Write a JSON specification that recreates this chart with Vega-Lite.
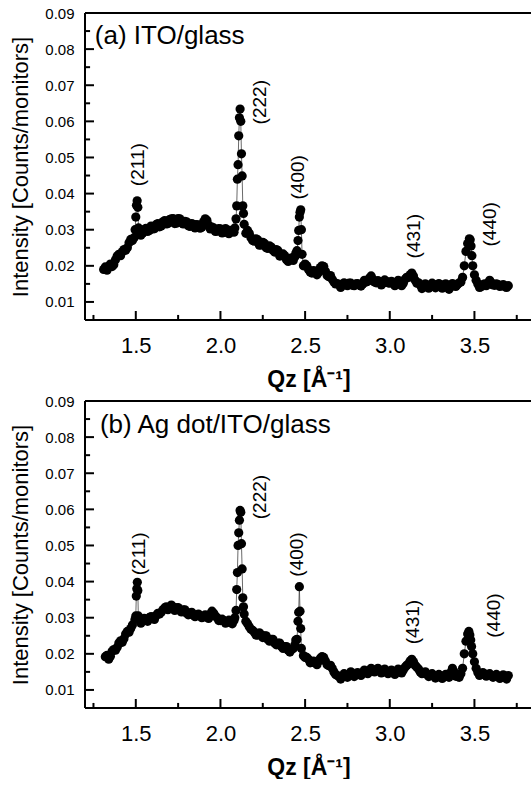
{
  "$schema": "https://vega.github.io/schema/vega-lite/v6.json",
  "padding": {"top": 6, "left": 9, "right": 0, "bottom": 0},
  "spacing": 3,
  "config": {
    "view": {"stroke": null},
    "axis": {"domain": false, "ticks": false, "labelColor": "black", "titleColor": "black", "labelFont": "Liberation Sans", "titleFont": "Liberation Sans", "grid": false}
  },
  "datasets": {
    "a": [
      {"q":1.31,"i":0.0190},{"q":1.33,"i":0.0188},{"q":1.35,"i":0.0205},{"q":1.37,"i":0.0203},{"q":1.39,"i":0.0227},{"q":1.41,"i":0.0228},{"q":1.43,"i":0.0245},{"q":1.45,"i":0.0250},{"q":1.47,"i":0.0273},{"q":1.49,"i":0.0278},
      {"q":1.496,"i":0.0300},{"q":1.500,"i":0.0335},{"q":1.504,"i":0.0368},{"q":1.508,"i":0.0380},{"q":1.512,"i":0.0362},{"q":1.516,"i":0.0305},
      {"q":1.53,"i":0.0285},{"q":1.55,"i":0.0300},{"q":1.57,"i":0.0295},{"q":1.59,"i":0.0310},{"q":1.61,"i":0.0303},{"q":1.63,"i":0.0317},{"q":1.65,"i":0.0310},{"q":1.67,"i":0.0325},{"q":1.69,"i":0.0317},{"q":1.71,"i":0.0330},
      {"q":1.73,"i":0.0317},{"q":1.75,"i":0.0331},{"q":1.77,"i":0.0319},{"q":1.79,"i":0.0323},{"q":1.81,"i":0.0311},{"q":1.83,"i":0.0317},{"q":1.85,"i":0.0305},{"q":1.87,"i":0.0313},{"q":1.89,"i":0.0307},{"q":1.91,"i":0.0330},
      {"q":1.93,"i":0.0313},{"q":1.95,"i":0.0307},{"q":1.97,"i":0.0295},{"q":1.99,"i":0.0303},{"q":2.01,"i":0.0291},{"q":2.03,"i":0.0303},{"q":2.05,"i":0.0289},{"q":2.07,"i":0.0297},{"q":2.085,"i":0.0305},{"q":2.092,"i":0.0330},
      {"q":2.096,"i":0.0366},{"q":2.100,"i":0.0440},{"q":2.104,"i":0.0480},{"q":2.108,"i":0.0560},{"q":2.112,"i":0.0610},{"q":2.116,"i":0.0634},{"q":2.120,"i":0.0600},{"q":2.124,"i":0.0510},{"q":2.128,"i":0.0449},{"q":2.132,"i":0.0366},{"q":2.136,"i":0.0345},
      {"q":2.14,"i":0.0315},{"q":2.15,"i":0.0290},{"q":2.17,"i":0.0290},{"q":2.19,"i":0.0270},{"q":2.21,"i":0.0275},{"q":2.23,"i":0.0257},{"q":2.25,"i":0.0265},{"q":2.27,"i":0.0250},{"q":2.29,"i":0.0255},{"q":2.31,"i":0.0243},
      {"q":2.33,"i":0.0245},{"q":2.35,"i":0.0227},{"q":2.37,"i":0.0233},{"q":2.39,"i":0.0217},{"q":2.41,"i":0.0220},{"q":2.43,"i":0.0215},{"q":2.445,"i":0.0235},
      {"q":2.452,"i":0.0242},{"q":2.458,"i":0.0270},{"q":2.462,"i":0.0298},{"q":2.466,"i":0.0335},{"q":2.470,"i":0.0348},{"q":2.474,"i":0.0355},{"q":2.478,"i":0.0300},{"q":2.482,"i":0.0232},
      {"q":2.49,"i":0.0200},{"q":2.51,"i":0.0200},{"q":2.53,"i":0.0183},{"q":2.55,"i":0.0187},{"q":2.57,"i":0.0175},{"q":2.59,"i":0.0195},{"q":2.61,"i":0.0198},{"q":2.63,"i":0.0173},{"q":2.65,"i":0.0173},{"q":2.67,"i":0.0155},
      {"q":2.69,"i":0.0151},{"q":2.71,"i":0.0140},{"q":2.73,"i":0.0153},{"q":2.75,"i":0.0145},{"q":2.77,"i":0.0152},{"q":2.79,"i":0.0145},{"q":2.81,"i":0.0151},{"q":2.83,"i":0.0144},{"q":2.85,"i":0.0160},{"q":2.87,"i":0.0157},
      {"q":2.89,"i":0.0172},{"q":2.91,"i":0.0155},{"q":2.93,"i":0.0159},{"q":2.95,"i":0.0147},{"q":2.97,"i":0.0161},{"q":2.99,"i":0.0153},{"q":3.01,"i":0.0157},{"q":3.03,"i":0.0145},{"q":3.05,"i":0.0160},{"q":3.07,"i":0.0145},
      {"q":3.09,"i":0.0163},{"q":3.11,"i":0.0168},{"q":3.13,"i":0.0180},{"q":3.15,"i":0.0160},{"q":3.17,"i":0.0153},{"q":3.19,"i":0.0137},{"q":3.21,"i":0.0150},{"q":3.23,"i":0.0138},{"q":3.25,"i":0.0152},{"q":3.27,"i":0.0139},
      {"q":3.29,"i":0.0151},{"q":3.31,"i":0.0138},{"q":3.33,"i":0.0150},{"q":3.35,"i":0.0135},{"q":3.37,"i":0.0151},{"q":3.39,"i":0.0143},{"q":3.41,"i":0.0153},{"q":3.43,"i":0.0168},{"q":3.44,"i":0.0200},{"q":3.45,"i":0.0240},
      {"q":3.46,"i":0.0262},{"q":3.47,"i":0.0275},{"q":3.475,"i":0.0272},{"q":3.48,"i":0.0255},{"q":3.485,"i":0.0228},{"q":3.49,"i":0.0200},{"q":3.50,"i":0.0175},{"q":3.51,"i":0.0160},{"q":3.53,"i":0.0140},{"q":3.55,"i":0.0147},
      {"q":3.57,"i":0.0145},{"q":3.59,"i":0.0160},{"q":3.61,"i":0.0147},{"q":3.63,"i":0.0150},{"q":3.65,"i":0.0143},{"q":3.67,"i":0.0148},{"q":3.69,"i":0.0140},{"q":3.70,"i":0.0145}
    ],
    "a2": [
      {"q":1.32,"i":0.0197},{"q":1.34,"i":0.0198},{"q":1.36,"i":0.0198},{"q":1.38,"i":0.0217},{"q":1.40,"i":0.0232},{"q":1.42,"i":0.0239},{"q":1.44,"i":0.0243},{"q":1.46,"i":0.0264},{"q":1.48,"i":0.0270},
      {"q":1.52,"i":0.0296},{"q":1.54,"i":0.0290},{"q":1.56,"i":0.0304},{"q":1.58,"i":0.0298},{"q":1.60,"i":0.0302},{"q":1.62,"i":0.0314},{"q":1.64,"i":0.0308},{"q":1.66,"i":0.0322},{"q":1.68,"i":0.0316},{"q":1.70,"i":0.0328},
      {"q":1.72,"i":0.0331},{"q":1.74,"i":0.0318},{"q":1.76,"i":0.0330},{"q":1.78,"i":0.0316},{"q":1.80,"i":0.0322},{"q":1.82,"i":0.0309},{"q":1.84,"i":0.0315},{"q":1.86,"i":0.0314},{"q":1.88,"i":0.0304},{"q":1.90,"i":0.0322},
      {"q":1.92,"i":0.0326},{"q":1.94,"i":0.0302},{"q":1.96,"i":0.0305},{"q":1.98,"i":0.0296},{"q":2.00,"i":0.0302},{"q":2.02,"i":0.0295},{"q":2.04,"i":0.0292},{"q":2.06,"i":0.0298},{"q":2.08,"i":0.0293},
      {"q":2.16,"i":0.0298},{"q":2.18,"i":0.0278},{"q":2.20,"i":0.0268},{"q":2.22,"i":0.0272},{"q":2.24,"i":0.0258},{"q":2.26,"i":0.0262},{"q":2.28,"i":0.0248},{"q":2.30,"i":0.0252},{"q":2.32,"i":0.0238},{"q":2.34,"i":0.0242},
      {"q":2.36,"i":0.0228},{"q":2.38,"i":0.0228},{"q":2.40,"i":0.0212},{"q":2.42,"i":0.0222},{"q":2.44,"i":0.0225},
      {"q":2.50,"i":0.0205},{"q":2.52,"i":0.0190},{"q":2.54,"i":0.0180},{"q":2.56,"i":0.0185},{"q":2.58,"i":0.0182},{"q":2.60,"i":0.0200},{"q":2.62,"i":0.0185},{"q":2.64,"i":0.0170},{"q":2.66,"i":0.0163},{"q":2.68,"i":0.0150},
      {"q":2.70,"i":0.0148},{"q":2.72,"i":0.0146},{"q":2.74,"i":0.0148},{"q":2.76,"i":0.0152},{"q":2.78,"i":0.0146},{"q":2.80,"i":0.0150},{"q":2.82,"i":0.0147},{"q":2.84,"i":0.0150},{"q":2.86,"i":0.0155},{"q":2.88,"i":0.0166},
      {"q":2.90,"i":0.0163},{"q":2.92,"i":0.0153},{"q":2.94,"i":0.0155},{"q":2.96,"i":0.0152},{"q":2.98,"i":0.0157},{"q":3.00,"i":0.0152},{"q":3.02,"i":0.0153},{"q":3.04,"i":0.0150},{"q":3.06,"i":0.0152},{"q":3.08,"i":0.0152},
      {"q":3.10,"i":0.0168},{"q":3.12,"i":0.0175},{"q":3.14,"i":0.0172},{"q":3.16,"i":0.0152},{"q":3.18,"i":0.0147},{"q":3.20,"i":0.0143},{"q":3.22,"i":0.0144},{"q":3.24,"i":0.0143},{"q":3.26,"i":0.0148},{"q":3.28,"i":0.0143},
      {"q":3.30,"i":0.0147},{"q":3.32,"i":0.0142},{"q":3.34,"i":0.0145},{"q":3.36,"i":0.0142},{"q":3.38,"i":0.0145},{"q":3.40,"i":0.0148},{"q":3.42,"i":0.0155},
      {"q":3.52,"i":0.0150},{"q":3.54,"i":0.0142},{"q":3.56,"i":0.0150},{"q":3.58,"i":0.0152},{"q":3.60,"i":0.0153},{"q":3.62,"i":0.0146},{"q":3.64,"i":0.0148},{"q":3.66,"i":0.0145},{"q":3.68,"i":0.0142}
    ],
    "b": [
      {"q":1.32,"i":0.0192},{"q":1.34,"i":0.0185},{"q":1.36,"i":0.0207},{"q":1.38,"i":0.0210},{"q":1.40,"i":0.0230},{"q":1.42,"i":0.0232},{"q":1.44,"i":0.0255},{"q":1.46,"i":0.0260},{"q":1.48,"i":0.0280},{"q":1.495,"i":0.0295},
      {"q":1.500,"i":0.0305},{"q":1.503,"i":0.0360},{"q":1.506,"i":0.0380},{"q":1.509,"i":0.0398},{"q":1.512,"i":0.0375},{"q":1.515,"i":0.0305},
      {"q":1.53,"i":0.0285},{"q":1.55,"i":0.0298},{"q":1.57,"i":0.0290},{"q":1.59,"i":0.0303},{"q":1.61,"i":0.0295},{"q":1.63,"i":0.0312},{"q":1.65,"i":0.0315},{"q":1.67,"i":0.0327},{"q":1.69,"i":0.0322},{"q":1.71,"i":0.0335},
      {"q":1.73,"i":0.0320},{"q":1.75,"i":0.0328},{"q":1.77,"i":0.0316},{"q":1.79,"i":0.0322},{"q":1.81,"i":0.0308},{"q":1.83,"i":0.0315},{"q":1.85,"i":0.0303},{"q":1.87,"i":0.0310},{"q":1.89,"i":0.0300},{"q":1.91,"i":0.0308},
      {"q":1.93,"i":0.0298},{"q":1.95,"i":0.0318},{"q":1.97,"i":0.0305},{"q":1.99,"i":0.0292},{"q":2.01,"i":0.0296},{"q":2.03,"i":0.0285},{"q":2.05,"i":0.0293},{"q":2.07,"i":0.0283},{"q":2.085,"i":0.0300},{"q":2.092,"i":0.0320},
      {"q":2.096,"i":0.0378},{"q":2.100,"i":0.0425},{"q":2.104,"i":0.0500},{"q":2.108,"i":0.0535},{"q":2.112,"i":0.0570},{"q":2.116,"i":0.0597},{"q":2.120,"i":0.0592},{"q":2.124,"i":0.0505},{"q":2.128,"i":0.0435},{"q":2.132,"i":0.0355},{"q":2.136,"i":0.0330},
      {"q":2.14,"i":0.0310},{"q":2.15,"i":0.0290},{"q":2.17,"i":0.0275},{"q":2.19,"i":0.0265},{"q":2.21,"i":0.0252},{"q":2.23,"i":0.0258},{"q":2.25,"i":0.0245},{"q":2.27,"i":0.0250},{"q":2.29,"i":0.0235},{"q":2.31,"i":0.0240},
      {"q":2.33,"i":0.0225},{"q":2.35,"i":0.0230},{"q":2.37,"i":0.0215},{"q":2.39,"i":0.0220},{"q":2.41,"i":0.0205},{"q":2.43,"i":0.0215},{"q":2.445,"i":0.0238},
      {"q":2.452,"i":0.0240},{"q":2.458,"i":0.0290},{"q":2.462,"i":0.0315},{"q":2.466,"i":0.0386},{"q":2.470,"i":0.0318},{"q":2.474,"i":0.0270},{"q":2.478,"i":0.0215},
      {"q":2.49,"i":0.0195},{"q":2.51,"i":0.0190},{"q":2.53,"i":0.0175},{"q":2.55,"i":0.0180},{"q":2.57,"i":0.0170},{"q":2.59,"i":0.0188},{"q":2.61,"i":0.0190},{"q":2.63,"i":0.0170},{"q":2.65,"i":0.0168},{"q":2.67,"i":0.0150},
      {"q":2.69,"i":0.0140},{"q":2.71,"i":0.0130},{"q":2.73,"i":0.0145},{"q":2.75,"i":0.0135},{"q":2.77,"i":0.0150},{"q":2.79,"i":0.0137},{"q":2.81,"i":0.0148},{"q":2.83,"i":0.0140},{"q":2.85,"i":0.0155},{"q":2.87,"i":0.0145},
      {"q":2.89,"i":0.0160},{"q":2.91,"i":0.0150},{"q":2.93,"i":0.0160},{"q":2.95,"i":0.0147},{"q":2.97,"i":0.0158},{"q":2.99,"i":0.0145},{"q":3.01,"i":0.0155},{"q":3.03,"i":0.0143},{"q":3.05,"i":0.0158},{"q":3.07,"i":0.0147},
      {"q":3.09,"i":0.0163},{"q":3.11,"i":0.0172},{"q":3.13,"i":0.0185},{"q":3.15,"i":0.0168},{"q":3.17,"i":0.0158},{"q":3.19,"i":0.0145},{"q":3.21,"i":0.0150},{"q":3.23,"i":0.0137},{"q":3.25,"i":0.0145},{"q":3.27,"i":0.0133},
      {"q":3.29,"i":0.0143},{"q":3.31,"i":0.0132},{"q":3.33,"i":0.0143},{"q":3.35,"i":0.0135},{"q":3.37,"i":0.0160},{"q":3.39,"i":0.0138},{"q":3.41,"i":0.0135},{"q":3.43,"i":0.0160},{"q":3.44,"i":0.0200},{"q":3.45,"i":0.0235},
      {"q":3.46,"i":0.0255},{"q":3.467,"i":0.0262},{"q":3.473,"i":0.0252},{"q":3.478,"i":0.0238},{"q":3.483,"i":0.0220},{"q":3.49,"i":0.0200},{"q":3.50,"i":0.0178},{"q":3.51,"i":0.0160},{"q":3.53,"i":0.0140},{"q":3.55,"i":0.0148},
      {"q":3.57,"i":0.0138},{"q":3.59,"i":0.0145},{"q":3.61,"i":0.0135},{"q":3.63,"i":0.0143},{"q":3.65,"i":0.0132},{"q":3.67,"i":0.0142},{"q":3.69,"i":0.0130},{"q":3.70,"i":0.0140}
    ],
    "b2": [
      {"q":1.33,"i":0.0196},{"q":1.35,"i":0.0193},{"q":1.37,"i":0.0212},{"q":1.39,"i":0.0218},{"q":1.41,"i":0.0236},{"q":1.43,"i":0.0242},{"q":1.45,"i":0.0262},{"q":1.47,"i":0.0270},
      {"q":1.52,"i":0.0295},{"q":1.54,"i":0.0290},{"q":1.56,"i":0.0296},{"q":1.58,"i":0.0300},{"q":1.60,"i":0.0298},{"q":1.62,"i":0.0306},{"q":1.64,"i":0.0310},{"q":1.66,"i":0.0322},{"q":1.68,"i":0.0330},{"q":1.70,"i":0.0326},
      {"q":1.72,"i":0.0330},{"q":1.74,"i":0.0327},{"q":1.76,"i":0.0320},{"q":1.78,"i":0.0322},{"q":1.80,"i":0.0313},{"q":1.82,"i":0.0313},{"q":1.84,"i":0.0307},{"q":1.86,"i":0.0308},{"q":1.88,"i":0.0305},{"q":1.90,"i":0.0302},
      {"q":1.92,"i":0.0302},{"q":1.94,"i":0.0310},{"q":1.96,"i":0.0312},{"q":1.98,"i":0.0300},{"q":2.00,"i":0.0292},{"q":2.02,"i":0.0292},{"q":2.04,"i":0.0290},{"q":2.06,"i":0.0286},{"q":2.08,"i":0.0292},
      {"q":2.16,"i":0.0283},{"q":2.18,"i":0.0268},{"q":2.20,"i":0.0260},{"q":2.22,"i":0.0252},{"q":2.24,"i":0.0253},{"q":2.26,"i":0.0250},{"q":2.28,"i":0.0240},{"q":2.30,"i":0.0240},{"q":2.32,"i":0.0230},{"q":2.34,"i":0.0230},
      {"q":2.36,"i":0.0220},{"q":2.38,"i":0.0220},{"q":2.40,"i":0.0210},{"q":2.42,"i":0.0212},{"q":2.44,"i":0.0225},
      {"q":2.50,"i":0.0190},{"q":2.52,"i":0.0185},{"q":2.54,"i":0.0176},{"q":2.56,"i":0.0176},{"q":2.58,"i":0.0180},{"q":2.60,"i":0.0192},{"q":2.62,"i":0.0180},{"q":2.64,"i":0.0167},{"q":2.66,"i":0.0160},{"q":2.68,"i":0.0143},
      {"q":2.70,"i":0.0137},{"q":2.72,"i":0.0136},{"q":2.74,"i":0.0140},{"q":2.76,"i":0.0142},{"q":2.78,"i":0.0143},{"q":2.80,"i":0.0142},{"q":2.82,"i":0.0145},{"q":2.84,"i":0.0147},{"q":2.86,"i":0.0150},{"q":2.88,"i":0.0153},
      {"q":2.90,"i":0.0155},{"q":2.92,"i":0.0155},{"q":2.94,"i":0.0153},{"q":2.96,"i":0.0153},{"q":2.98,"i":0.0150},{"q":3.00,"i":0.0150},{"q":3.02,"i":0.0148},{"q":3.04,"i":0.0150},{"q":3.06,"i":0.0152},{"q":3.08,"i":0.0155},
      {"q":3.10,"i":0.0168},{"q":3.12,"i":0.0180},{"q":3.14,"i":0.0178},{"q":3.16,"i":0.0163},{"q":3.18,"i":0.0150},{"q":3.20,"i":0.0147},{"q":3.22,"i":0.0143},{"q":3.24,"i":0.0140},{"q":3.26,"i":0.0138},{"q":3.28,"i":0.0138},
      {"q":3.30,"i":0.0137},{"q":3.32,"i":0.0138},{"q":3.34,"i":0.0138},{"q":3.36,"i":0.0148},{"q":3.38,"i":0.0150},{"q":3.40,"i":0.0137},{"q":3.42,"i":0.0145},
      {"q":3.52,"i":0.0148},{"q":3.54,"i":0.0144},{"q":3.56,"i":0.0143},{"q":3.58,"i":0.0142},{"q":3.60,"i":0.0140},{"q":3.62,"i":0.0139},{"q":3.64,"i":0.0137},{"q":3.66,"i":0.0136},{"q":3.68,"i":0.0136}
    ],
    "la": [
      {"q":1.512,"i":0.0480,"t":"(211)"},{"q":2.234,"i":0.0653,"t":"(222)"},{"q":2.460,"i":0.0445,"t":"(400)"},{"q":3.143,"i":0.0282,"t":"(431)"},{"q":3.592,"i":0.0315,"t":"(440)"}
    ],
    "lb": [
      {"q":1.518,"i":0.0477,"t":"(211)"},{"q":2.234,"i":0.0634,"t":"(222)"},{"q":2.454,"i":0.0475,"t":"(400)"},{"q":3.140,"i":0.0288,"t":"(431)"},{"q":3.615,"i":0.0306,"t":"(440)"}
    ],
    "ta": [{"q":1.258,"i":0.0836,"t":"(a) ITO/glass"}],
    "tb": [{"q":1.288,"i":0.0834,"t":"(b) Ag dot/ITO/glass"}],
    "frame": [{"side": "all"}],
    "ytmaj": [{"v":0.01},{"v":0.02},{"v":0.03},{"v":0.04},{"v":0.05},{"v":0.06},{"v":0.07},{"v":0.08},{"v":0.09}],
    "ytmin": [{"v":0.015},{"v":0.025},{"v":0.035},{"v":0.045},{"v":0.055},{"v":0.065},{"v":0.075},{"v":0.085}],
    "xtmaj": [{"v":1.5},{"v":2.0},{"v":2.5},{"v":3.0},{"v":3.5}],
    "xtmin": [{"v":1.25},{"v":1.75},{"v":2.25},{"v":2.75},{"v":3.25},{"v":3.75}]
  },
  "vconcat": [
    {
      "width": 447, "height": 307,
      "resolve": {"axis": {"x": "independent", "y": "independent"}},
      "layer": [
        {"data": {"name": "a"}, "mark": {"type": "line", "color": "#444", "strokeWidth": 0.8},
         "encoding": {
           "x": {"field": "q", "type": "quantitative", "scale": {"domain": [1.2, 3.84], "nice": false, "zero": false},
                 "axis": {"orient": "bottom", "values": [1.5, 2.0, 2.5, 3.0, 3.5], "format": ".1f", "labelFontSize": 22, "labelPadding": 15, "title": "Qz [Å⁻¹]", "titleFontSize": 23, "titleFontWeight": "bold", "titlePadding": 12}},
           "y": {"field": "i", "type": "quantitative", "scale": {"domain": [0.005, 0.09], "nice": false, "zero": false},
                 "axis": {"orient": "left", "values": [0.01, 0.02, 0.03, 0.04, 0.05, 0.06, 0.07, 0.08, 0.09], "format": ".2f", "labelOverlap": false, "labelFontSize": 15, "labelPadding": 11, "title": "Intensity [Counts/monitors]", "titleFontSize": 22, "titleFontWeight": "normal", "titlePadding": 12}}
         }},
        {"data": {"name": "a"}, "mark": {"type": "point", "shape": "circle", "filled": true, "color": "black", "opacity": 1, "size": 85},
         "encoding": {"x": {"field": "q", "type": "quantitative", "axis": null}, "y": {"field": "i", "type": "quantitative", "axis": null}}},
        {"data": {"name": "a2"}, "mark": {"type": "point", "shape": "circle", "filled": true, "color": "black", "opacity": 1, "size": 85},
         "encoding": {"x": {"field": "q", "type": "quantitative", "axis": null}, "y": {"field": "i", "type": "quantitative", "axis": null}}},
        {"data": {"name": "frame"}, "mark": {"type": "rule", "color": "black", "strokeWidth": 2},
         "encoding": {"y": {"datum": 0.09, "type": "quantitative", "axis": null}, "x": {"datum": 1.2, "type": "quantitative", "axis": null}, "x2": {"datum": 3.84}}},
        {"data": {"name": "frame"}, "mark": {"type": "rule", "color": "black", "strokeWidth": 2},
         "encoding": {"y": {"datum": 0.005, "type": "quantitative", "axis": null}, "x": {"datum": 1.2, "type": "quantitative", "axis": null}, "x2": {"datum": 3.84}}},
        {"data": {"name": "frame"}, "mark": {"type": "rule", "color": "black", "strokeWidth": 2},
         "encoding": {"x": {"datum": 1.2, "type": "quantitative", "axis": null}, "y": {"datum": 0.005, "type": "quantitative", "axis": null}, "y2": {"datum": 0.09}}},
        {"data": {"name": "ytmaj"}, "mark": {"type": "rule", "color": "black", "strokeWidth": 2},
         "encoding": {"y": {"field": "v", "type": "quantitative", "axis": null}, "x": {"datum": 1.2, "type": "quantitative", "axis": null}, "x2": {"datum": 1.253}}},
        {"data": {"name": "ytmin"}, "mark": {"type": "rule", "color": "black", "strokeWidth": 2},
         "encoding": {"y": {"field": "v", "type": "quantitative", "axis": null}, "x": {"datum": 1.2, "type": "quantitative", "axis": null}, "x2": {"datum": 1.23}}},
        {"data": {"name": "xtmaj"}, "mark": {"type": "rule", "color": "black", "strokeWidth": 2},
         "encoding": {"x": {"field": "v", "type": "quantitative", "axis": null}, "y": {"datum": 0.005, "type": "quantitative", "axis": null}, "y2": {"datum": 0.0075}}},
        {"data": {"name": "xtmin"}, "mark": {"type": "rule", "color": "black", "strokeWidth": 2},
         "encoding": {"x": {"field": "v", "type": "quantitative", "axis": null}, "y": {"datum": 0.005, "type": "quantitative", "axis": null}, "y2": {"datum": 0.0064}}},
        {"data": {"name": "la"}, "mark": {"type": "text", "angle": 270, "align": "center", "baseline": "middle", "font": "Liberation Sans", "fontSize": 19, "color": "black"},
         "encoding": {"x": {"field": "q", "type": "quantitative", "axis": null}, "y": {"field": "i", "type": "quantitative", "axis": null}, "text": {"field": "t"}}},
        {"data": {"name": "ta"}, "mark": {"type": "text", "align": "left", "baseline": "middle", "font": "Liberation Sans", "fontSize": 26, "color": "black"},
         "encoding": {"x": {"field": "q", "type": "quantitative", "axis": null}, "y": {"field": "i", "type": "quantitative", "axis": null}, "text": {"field": "t"}}}
      ]
    },
    {
      "width": 447, "height": 307,
      "resolve": {"axis": {"x": "independent", "y": "independent"}},
      "layer": [
        {"data": {"name": "b"}, "mark": {"type": "line", "color": "#444", "strokeWidth": 0.8},
         "encoding": {
           "x": {"field": "q", "type": "quantitative", "scale": {"domain": [1.2, 3.84], "nice": false, "zero": false},
                 "axis": {"orient": "bottom", "values": [1.5, 2.0, 2.5, 3.0, 3.5], "format": ".1f", "labelFontSize": 22, "labelPadding": 15, "title": "Qz [Å⁻¹]", "titleFontSize": 23, "titleFontWeight": "bold", "titlePadding": 12}},
           "y": {"field": "i", "type": "quantitative", "scale": {"domain": [0.005, 0.09], "nice": false, "zero": false},
                 "axis": {"orient": "left", "values": [0.01, 0.02, 0.03, 0.04, 0.05, 0.06, 0.07, 0.08, 0.09], "format": ".2f", "labelOverlap": false, "labelFontSize": 15, "labelPadding": 11, "title": "Intensity [Counts/monitors]", "titleFontSize": 22, "titleFontWeight": "normal", "titlePadding": 12}}
         }},
        {"data": {"name": "b"}, "mark": {"type": "point", "shape": "circle", "filled": true, "color": "black", "opacity": 1, "size": 85},
         "encoding": {"x": {"field": "q", "type": "quantitative", "axis": null}, "y": {"field": "i", "type": "quantitative", "axis": null}}},
        {"data": {"name": "b2"}, "mark": {"type": "point", "shape": "circle", "filled": true, "color": "black", "opacity": 1, "size": 85},
         "encoding": {"x": {"field": "q", "type": "quantitative", "axis": null}, "y": {"field": "i", "type": "quantitative", "axis": null}}},
        {"data": {"name": "frame"}, "mark": {"type": "rule", "color": "black", "strokeWidth": 2},
         "encoding": {"y": {"datum": 0.09, "type": "quantitative", "axis": null}, "x": {"datum": 1.2, "type": "quantitative", "axis": null}, "x2": {"datum": 3.84}}},
        {"data": {"name": "frame"}, "mark": {"type": "rule", "color": "black", "strokeWidth": 2},
         "encoding": {"y": {"datum": 0.005, "type": "quantitative", "axis": null}, "x": {"datum": 1.2, "type": "quantitative", "axis": null}, "x2": {"datum": 3.84}}},
        {"data": {"name": "frame"}, "mark": {"type": "rule", "color": "black", "strokeWidth": 2},
         "encoding": {"x": {"datum": 1.2, "type": "quantitative", "axis": null}, "y": {"datum": 0.005, "type": "quantitative", "axis": null}, "y2": {"datum": 0.09}}},
        {"data": {"name": "ytmaj"}, "mark": {"type": "rule", "color": "black", "strokeWidth": 2},
         "encoding": {"y": {"field": "v", "type": "quantitative", "axis": null}, "x": {"datum": 1.2, "type": "quantitative", "axis": null}, "x2": {"datum": 1.253}}},
        {"data": {"name": "ytmin"}, "mark": {"type": "rule", "color": "black", "strokeWidth": 2},
         "encoding": {"y": {"field": "v", "type": "quantitative", "axis": null}, "x": {"datum": 1.2, "type": "quantitative", "axis": null}, "x2": {"datum": 1.23}}},
        {"data": {"name": "xtmaj"}, "mark": {"type": "rule", "color": "black", "strokeWidth": 2},
         "encoding": {"x": {"field": "v", "type": "quantitative", "axis": null}, "y": {"datum": 0.005, "type": "quantitative", "axis": null}, "y2": {"datum": 0.0075}}},
        {"data": {"name": "xtmin"}, "mark": {"type": "rule", "color": "black", "strokeWidth": 2},
         "encoding": {"x": {"field": "v", "type": "quantitative", "axis": null}, "y": {"datum": 0.005, "type": "quantitative", "axis": null}, "y2": {"datum": 0.0064}}},
        {"data": {"name": "lb"}, "mark": {"type": "text", "angle": 270, "align": "center", "baseline": "middle", "font": "Liberation Sans", "fontSize": 19, "color": "black"},
         "encoding": {"x": {"field": "q", "type": "quantitative", "axis": null}, "y": {"field": "i", "type": "quantitative", "axis": null}, "text": {"field": "t"}}},
        {"data": {"name": "tb"}, "mark": {"type": "text", "align": "left", "baseline": "middle", "font": "Liberation Sans", "fontSize": 26, "color": "black"},
         "encoding": {"x": {"field": "q", "type": "quantitative", "axis": null}, "y": {"field": "i", "type": "quantitative", "axis": null}, "text": {"field": "t"}}}
      ]
    }
  ]
}
